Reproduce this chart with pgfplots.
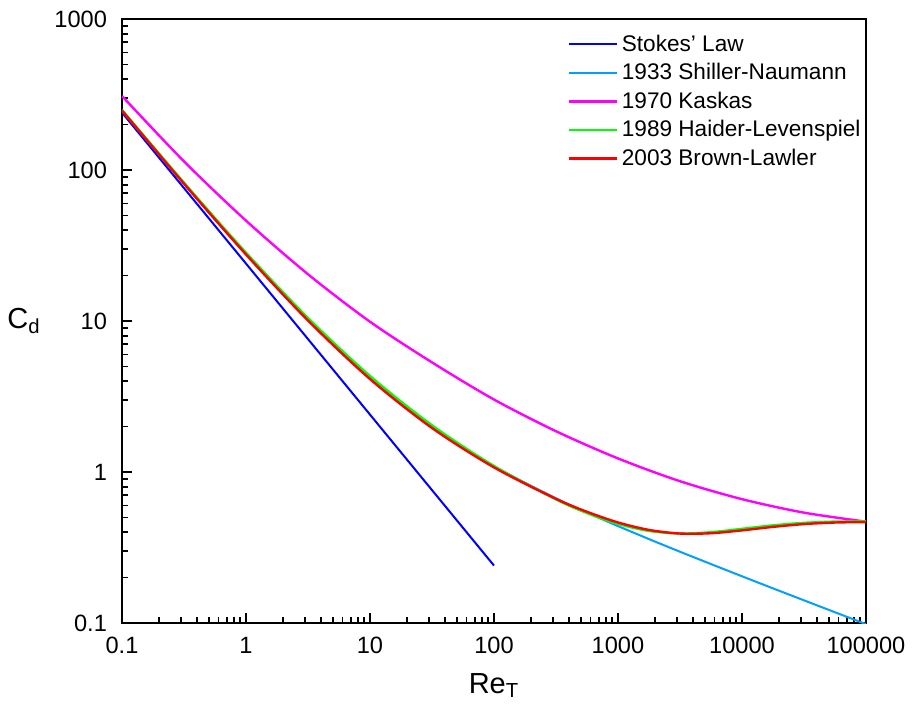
\documentclass[border=0pt]{standalone}
\usepackage{pgfplots}
\pgfplotsset{compat=1.18}
\usepackage{fontspec}
\setmainfont{Liberation Sans}
\definecolor{cStokes}{RGB}{0,0,255}
\definecolor{cSN}{RGB}{0,160,255}
\definecolor{cKas}{RGB}{255,0,255}
\definecolor{cHL}{RGB}{0,255,0}
\definecolor{cBL}{RGB}{255,0,0}
\begin{document}
\begin{tikzpicture}
\begin{loglogaxis}[
  scale only axis,
  width=372pt, height=302pt,
  xmin=0.1, xmax=100000, ymin=0.1, ymax=1000,
  axis line style={line width=1pt},
  every tick/.style={black, line width=0.9pt},
  major tick length=5pt, minor tick length=3pt,
  tick align=inside,
  xtick pos=bottom, ytick pos=left,
  xtick={0.1,1,10,100,1000,10000,100000},
  xticklabels={0.1,1,10,100,1000,10000,100000},
  ytick={0.1,1,10,100,1000},
  yticklabels={0.1,1,10,100,1000},
  /pgf/number format/assume math mode=true,
  ticklabel style={font=\fontsize{11.8}{13}\selectfont},
  xticklabel style={yshift=-3.5pt},
  yticklabel style={xshift=-4pt},
  xlabel={Re\textsubscript{T}},
  ylabel={C\textsubscript{d}},
  label style={font=\fontsize{14.5}{16}\selectfont},
  xlabel style={yshift=-3pt},
  ylabel style={rotate=-90, xshift=0pt},
  clip=true,
  legend style={draw=none, fill=none, at={(1,0.988)}, xshift=2.5pt, anchor=north east,
    font=\fontsize{11.3}{13}\selectfont, row sep=0.6pt},
  legend cell align=left,
  legend image code/.code={\draw[#1] (0pt,0pt) -- (24pt,0pt);},
]
\addplot[cStokes, line width=1pt] coordinates {(0.1,240) (100,0.24)};
\addlegendentry{Stokes' Law}
\addplot[cSN, line width=1pt, smooth] coordinates {
(0.1,247.4) (0.3162,81.06) (1,27.6) (3.162,10.10) (10,4.151) (31.62,1.980)
(100,1.0918) (316.2,0.670) (562.3,0.5388) (1000,0.4383) (1778,0.3596) (3162,0.2965)
(5623,0.2457) (10000,0.2039) (17783,0.1696) (31623,0.1413) (56234,0.1178) (100000,0.0983)};
\addlegendentry{1933 Shiller-Naumann}
\addplot[cKas, line width=1.2pt, smooth] coordinates {
(0.1,309) (0.3162,114) (1,46.2) (3.162,20.4) (10,9.89) (31.62,5.32) (100,3.02)
(316.2,1.862) (1000,1.23) (3162,0.869) (10000,0.661) (31623,0.538) (100000,0.469)};
\addlegendentry{1970 Kaskas}
\addplot[cHL, line width=1.2pt, smooth] coordinates {
(0.1,249.8) (0.3162,82.40) (1,28.33) (3.162,10.47) (10,4.319) (31.62,2.037)
(100,1.095) (316.2,0.659) (562.3,0.535) (1000,0.4534) (1778,0.4072) (3162,0.3913)
(5623,0.3993) (10000,0.4204) (17783,0.4433) (31623,0.4604) (56234,0.4693) (100000,0.4715)};
\addlegendentry{1989 Haider-Levenspiel}
\addplot[cBL, line width=1.2pt, smooth] coordinates {
(0.1,247.5) (0.3162,81.09) (1,27.6) (3.162,10.08) (10,4.128) (31.62,1.957)
(100,1.073) (316.2,0.664) (562.3,0.545) (1000,0.4633) (1778,0.4134) (3162,0.3913)
(5623,0.3931) (10000,0.4106) (17783,0.4331) (31623,0.4519) (56234,0.4628) (100000,0.4661)};
\addlegendentry{2003 Brown-Lawler}
\end{loglogaxis}
\pgfresetboundingbox
\path ([shift={(-61pt,-45pt)}]current axis.south west) rectangle ([shift={(23pt,9.5pt)}]current axis.north east);
\end{tikzpicture}
\end{document}
